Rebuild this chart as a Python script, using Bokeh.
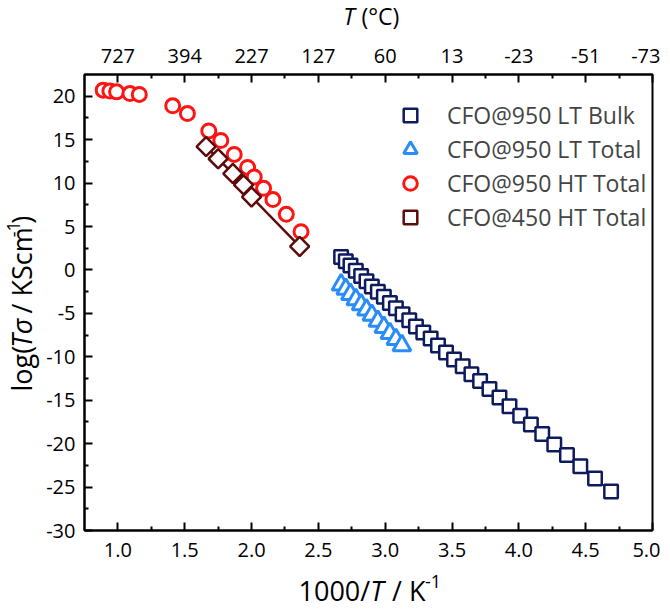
import numpy as np
from bokeh.plotting import figure
from bokeh.layouts import column, row
from bokeh.models import (Range1d, LinearAxis, FixedTicker, PrintfTickFormatter,
                          Legend, LegendItem)
from bokeh.core.properties import value
from bokeh.embed import file_html
from bokeh.resources import INLINE

# ---------------- data ----------------
bulk_x = [2.67, 2.705, 2.74, 2.78, 2.82, 2.86, 2.90, 2.945, 2.99, 3.035, 3.08,
          3.13, 3.18, 3.23, 3.285, 3.34, 3.395, 3.455, 3.515, 3.58, 3.645, 3.71,
          3.78, 3.855, 3.93, 4.01, 4.09, 4.175, 4.265, 4.36, 4.46, 4.57, 4.69]
bulk_y = [1.5, 1.0, 0.5, -0.1, -0.7, -1.3, -1.9, -2.5, -3.1, -3.8, -4.4,
          -5.1, -5.8, -6.5, -7.2, -7.9, -8.7, -9.5, -10.3, -11.1, -12.0, -12.8,
          -13.7, -14.7, -15.7, -16.8, -17.8, -18.9, -20.1, -21.3, -22.6, -24.0, -25.5]

lt_total_x = [2.67, 2.705, 2.74, 2.78, 2.82, 2.86, 2.90, 2.945, 2.99, 3.035, 3.08, 3.125]
lt_total_y = [-1.7, -2.2, -2.8, -3.4, -4.0, -4.6, -5.2, -5.9, -6.6, -7.3, -8.0, -8.7]

ht950_x = [0.89, 0.94, 0.99, 1.09, 1.16, 1.41, 1.52, 1.68, 1.77, 1.87, 1.97,
           2.02, 2.09, 2.16, 2.26, 2.37]
ht950_y = [20.7, 20.6, 20.5, 20.3, 20.2, 18.9, 18.0, 16.0, 14.9, 13.3, 11.8,
           10.7, 9.4, 8.1, 6.4, 4.4]

ht450_x = [1.66, 1.75, 1.86, 1.94, 2.00, 2.36]
ht450_y = [14.2, 12.8, 11.1, 9.8, 8.4, 2.7]

series_names = ["CFO@950 LT Bulk", "CFO@950 LT Total", "CFO@950 HT Total", "CFO@450 HT Total"]

x_ticks = [1.0, 1.5, 2.0, 2.5, 3.0, 3.5, 4.0, 4.5, 5.0]
x_minor = [1.25, 1.75, 2.25, 2.75, 3.25, 3.75, 4.25, 4.75]
top_labels = ["727", "394", "227", "127", "60", "13", "-23", "-51", "-73"]
y_ticks = [-30, -25, -20, -15, -10, -5, 0, 5, 10, 15, 20]
y_minor = [-27.5, -22.5, -17.5, -12.5, -7.5, -2.5, 2.5, 7.5, 12.5, 17.5]

# ---------------- layout (canvas pixels) ----------------
X0, X1, Y0, Y1 = 0.75, 5.0, -30.0, 22.5
FL, FR, FT, FB = 84, 652, 74, 530      # frame edges of the main plot
W = 660
TOP_H = 32                              # strip holding the top title
LEFT_W = 40                             # strip holding the y title
MAIN_BOTTOM = 570                       # where the bottom-title strip starts
BOT_H = 40
FONT = "Open Sans"

MAIN_W = W - LEFT_W
MAIN_H = MAIN_BOTTOM - TOP_H

p = figure(width=MAIN_W, height=MAIN_H, output_backend="svg", toolbar_location=None,
           x_range=Range1d(X0, X1), y_range=Range1d(Y0, Y1),
           min_border_left=FL - LEFT_W, min_border_right=W - FR,
           min_border_top=FT - TOP_H, min_border_bottom=MAIN_BOTTOM - FB)
p.xgrid.visible = False
p.ygrid.visible = False
p.outline_line_color = "black"
p.outline_line_width = 2
p.background_fill_color = "white"
p.border_fill_color = "white"

def style_axis(ax, standoff):
    ax.axis_line_width = 2
    ax.axis_line_color = "black"
    ax.major_tick_in = 8
    ax.major_tick_out = 0
    ax.minor_tick_in = 4
    ax.minor_tick_out = 0
    ax.major_tick_line_width = 2
    ax.minor_tick_line_width = 2
    ax.major_tick_line_color = "black"
    ax.minor_tick_line_color = "black"
    ax.major_label_text_font = FONT
    ax.major_label_text_font_size = "20px"
    ax.major_label_text_color = "black"
    ax.major_label_standoff = standoff

xa = p.xaxis[0]
xa.ticker = FixedTicker(ticks=x_ticks, minor_ticks=x_minor)
xa.formatter = PrintfTickFormatter(format="%.1f")
style_axis(xa, 12)

ya = p.yaxis[0]
ya.ticker = FixedTicker(ticks=y_ticks, minor_ticks=y_minor)
ya.formatter = PrintfTickFormatter(format="%d")
style_axis(ya, 9)

top = LinearAxis(ticker=FixedTicker(ticks=x_ticks, minor_ticks=x_minor))
top.major_label_overrides = {t: lab for t, lab in zip(x_ticks, top_labels)}
style_axis(top, 12)
p.add_layout(top, "above")

# ---------------- series ----------------
c_bulk = "#0d1a5e"
c_ltt = "#2a8cf8"
c_ht950 = "#ff1414"
c_ht450 = "#5e0b0b"

p.line(bulk_x, bulk_y, line_color=c_bulk, line_width=1.5)
r_bulk = p.scatter(bulk_x, bulk_y, marker="square", size=13.5, line_color=c_bulk,
                   line_width=2.5, fill_color="white")
p.line(lt_total_x, lt_total_y, line_color=c_ltt, line_width=1.5)
r_ltt = p.scatter(lt_total_x, lt_total_y, marker="triangle", size=18, line_color=c_ltt,
                  line_width=3, fill_color="white")
r_ht950 = p.scatter(ht950_x, ht950_y, marker="circle", size=14, line_color=c_ht950,
                    line_width=3, fill_color="white")
p.line(ht450_x, ht450_y, line_color=c_ht450, line_width=2.5)
r_ht450 = p.scatter(ht450_x, ht450_y, marker="square", angle=np.pi / 4, size=13.5,
                    line_color=c_ht450, line_width=2.5, fill_color="white")

legend = Legend(items=[LegendItem(label=series_names[0], renderers=[r_bulk]),
                       LegendItem(label=series_names[1], renderers=[r_ltt]),
                       LegendItem(label=series_names[2], renderers=[r_ht950]),
                       LegendItem(label=series_names[3], renderers=[r_ht450])],
                location=(309, 296), padding=0, spacing=0, margin=0,
                glyph_width=34, glyph_height=34, label_height=34, label_standoff=20,
                label_text_font=FONT, label_text_font_size="23px",
                border_line_color=None, background_fill_alpha=0)
p.add_layout(legend)

# ---------------- title strips (text pieces, positioned in strip pixels) ----------------
def strip(w, h):
    f = figure(width=w, height=h, output_backend="svg", toolbar_location=None,
               x_range=Range1d(0, w), y_range=Range1d(h, 0),
               x_axis_type=None, y_axis_type=None,
               min_border=0, min_border_left=0, min_border_right=0,
               min_border_top=0, min_border_bottom=0)
    f.xgrid.visible = False
    f.ygrid.visible = False
    f.outline_line_color = None
    f.background_fill_color = "white"
    f.border_fill_color = "white"
    return f

def piece(f, text, x, y, size, style="normal", angle=0.0):
    f.text(x=[x], y=[y], text=[text], text_font=value(FONT),
           text_font_size=value(f"{size}px"), text_font_style=value(style),
           text_color="black", angle=angle, text_align="left",
           text_baseline="middle")

# top title: T (°C)
top_strip = strip(W, TOP_H)
piece(top_strip, "T", 342.7, 15, 23, style="italic")
piece(top_strip, "(°C)", 360.9, 15, 23)

# y title: log(Tσ / KScm-1), rotated, reading upward
left_strip = strip(LEFT_W, MAIN_H)
yx = 21
def ly(py):
    return py - TOP_H
piece(left_strip, "log(", yx, ly(406), 27, angle=np.pi / 2)
piece(left_strip, "Tσ", yx, ly(354.5), 27, style="italic", angle=np.pi / 2)
piece(left_strip, "/ KScm", yx, ly(314), 27, angle=np.pi / 2)
piece(left_strip, "-1", yx - 8, ly(224), 18, angle=np.pi / 2)
piece(left_strip, ")", yx, ly(208), 27, angle=np.pi / 2)

# bottom title: 1000/T / K-1
bot_strip = strip(W, BOT_H)
by = 590 - MAIN_BOTTOM
piece(bot_strip, "1000/", 298, by, 27)
piece(bot_strip, "T", 369.8, by, 27, style="italic")
piece(bot_strip, "/ K", 391.5, by, 27)
piece(bot_strip, "-1", 424.5, by - 9, 18)

layout = column(top_strip, row(left_strip, p, spacing=0), bot_strip, spacing=0)

open("out.html", "w").write(file_html(layout, INLINE))
